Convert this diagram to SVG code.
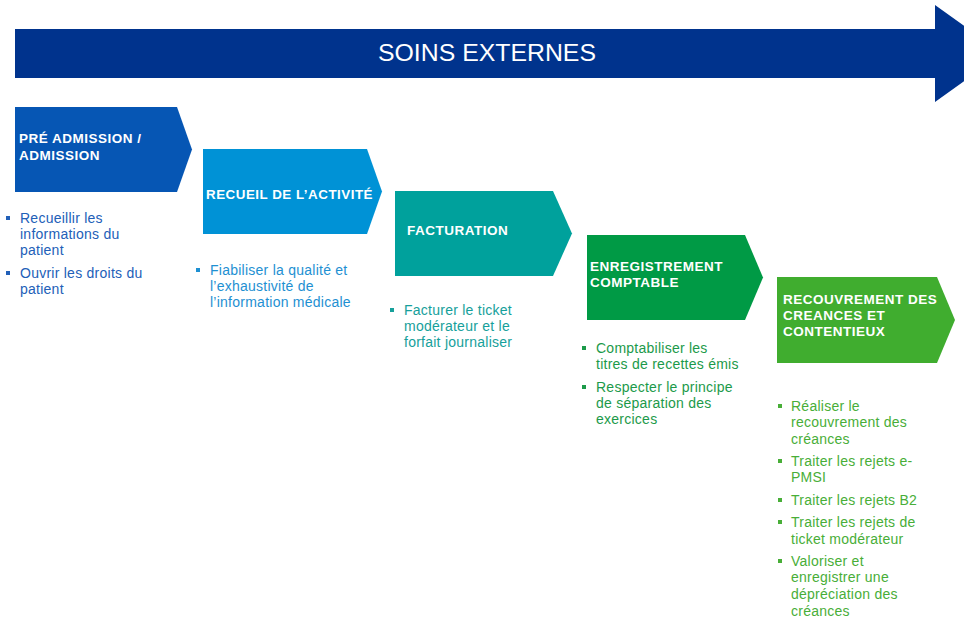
<svg xmlns="http://www.w3.org/2000/svg" width="964" height="619" viewBox="0 0 964 619">
<style>
  .bg{fill:#ffffff}
  .head{font-family:"Liberation Sans",Arial,sans-serif;font-weight:bold;font-size:13.5px;fill:#ffffff;letter-spacing:0.5px}
  .title{font-family:"Liberation Sans",Arial,sans-serif;font-size:24px;fill:#ffffff}
  .li{font-family:"Liberation Sans",Arial,sans-serif;font-size:14px;letter-spacing:0.25px}
  .c1{fill:#0656B4}.c2{fill:#0092D6}.c3{fill:#00A19C}.c4{fill:#009A45}.c5{fill:#40AD2F}
  .t1{fill:#2260B8}.t2{fill:#1E90D2}.t3{fill:#16A09B}.t4{fill:#1C9A4A}.t5{fill:#48AE38}
</style>
<defs>
  <rect id="bul" x="-2" y="-2" width="4" height="4"/>
</defs>
<rect class="bg" x="0" y="0" width="964" height="619"/>

<g id="soins-externes">
  <path d="M15,29 H935 V5 L1003,53.5 L935,102 V78 H15 Z" fill="#00338D"/>
  <text class="title" x="487" y="61" text-anchor="middle" textLength="218" lengthAdjust="spacingAndGlyphs">SOINS EXTERNES</text>
</g>

<g id="connectors"></g>

<g id="pre-admission">
  <path class="c1" d="M15,107 H177 L192,149.5 L177,192 H15 Z"/>
  <text class="head" x="19" y="143">PRÉ ADMISSION /</text>
  <text class="head" x="19" y="160">ADMISSION</text>
  <g class="t1">
    <use href="#bul" x="8" y="218"/>
    <use href="#bul" x="8" y="273"/>
  </g>
  <text class="li t1" x="20" y="223">Recueillir les</text>
  <text class="li t1" x="20" y="239">informations du</text>
  <text class="li t1" x="20" y="255">patient</text>
  <text class="li t1" x="20" y="278">Ouvrir les droits du</text>
  <text class="li t1" x="20" y="294">patient</text>
</g>

<g id="recueil">
  <path class="c2" d="M203,149 H367 L382,191.5 L367,234 H203 Z"/>
  <text class="head" x="206" y="199" textLength="167" lengthAdjust="spacingAndGlyphs">RECUEIL DE L’ACTIVITÉ</text>
  <g class="t2">
    <use href="#bul" x="198" y="270"/>
  </g>
  <text class="li t2" x="210" y="275">Fiabiliser la qualité et</text>
  <text class="li t2" x="210" y="291">l’exhaustivité de</text>
  <text class="li t2" x="210" y="307">l’information médicale</text>
</g>

<g id="facturation">
  <path class="c3" d="M395,191 H553 L572,233.5 L553,276 H395 Z"/>
  <text class="head" x="407" y="235">FACTURATION</text>
  <g class="t3">
    <use href="#bul" x="392" y="310"/>
  </g>
  <text class="li t3" x="404" y="315">Facturer le ticket</text>
  <text class="li t3" x="404" y="331">modérateur et le</text>
  <text class="li t3" x="404" y="347">forfait journaliser</text>
</g>

<g id="enregistrement">
  <path class="c4" d="M587,235 H745 L763,277.5 L745,320 H587 Z"/>
  <text class="head" x="590" y="271">ENREGISTREMENT</text>
  <text class="head" x="590" y="287">COMPTABLE</text>
  <g class="t4">
    <use href="#bul" x="584" y="348"/>
    <use href="#bul" x="584" y="387"/>
  </g>
  <text class="li t4" x="596" y="353">Comptabiliser les</text>
  <text class="li t4" x="596" y="369">titres de recettes émis</text>
  <text class="li t4" x="596" y="392">Respecter le principe</text>
  <text class="li t4" x="596" y="408">de séparation des</text>
  <text class="li t4" x="596" y="424">exercices</text>
</g>

<g id="recouvrement">
  <path class="c5" d="M777,277 H937 L955,320 L937,363 H777 Z"/>
  <text class="head" x="783" y="304">RECOUVREMENT DES</text>
  <text class="head" x="783" y="320">CREANCES ET</text>
  <text class="head" x="783" y="336">CONTENTIEUX</text>
  <g class="t5">
    <use href="#bul" x="780" y="406"/>
    <use href="#bul" x="780" y="461"/>
    <use href="#bul" x="780" y="500"/>
    <use href="#bul" x="780" y="522"/>
    <use href="#bul" x="780" y="561"/>
  </g>
  <text class="li t5" x="791" y="411">Réaliser le</text>
  <text class="li t5" x="791" y="427">recouvrement des</text>
  <text class="li t5" x="791" y="444">créances</text>
  <text class="li t5" x="791" y="466">Traiter  les rejets e-</text>
  <text class="li t5" x="791" y="482">PMSI</text>
  <text class="li t5" x="791" y="505">Traiter  les rejets B2</text>
  <text class="li t5" x="791" y="527">Traiter  les rejets de</text>
  <text class="li t5" x="791" y="544">ticket modérateur</text>
  <text class="li t5" x="791" y="566">Valoriser et</text>
  <text class="li t5" x="791" y="582">enregistrer une</text>
  <text class="li t5" x="791" y="599">dépréciation des</text>
  <text class="li t5" x="791" y="616">créances</text>
</g>
</svg>
